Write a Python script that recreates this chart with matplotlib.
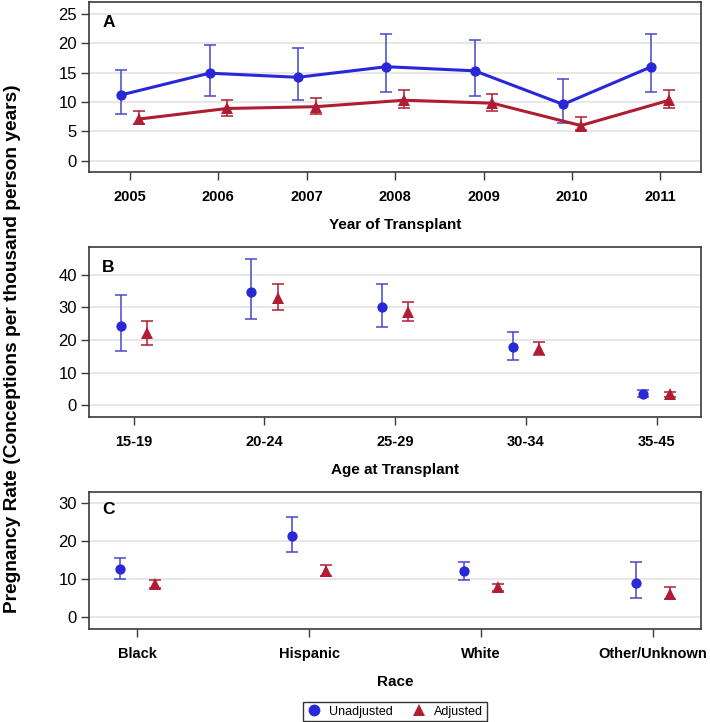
import matplotlib
matplotlib.use("Agg")
import matplotlib.pyplot as plt
from matplotlib.lines import Line2D
import numpy as np

plt.rcParams['font.family'] = ['Liberation Sans', 'DejaVu Sans']

# ---- Data ----
years = [2005, 2006, 2007, 2008, 2009, 2010, 2011]
a_unadj = [11.2, 14.9, 14.2, 16.0, 15.3, 9.6, 16.0]
a_unadj_lo = [8.0, 11.1, 10.4, 11.7, 11.1, 6.4, 11.7]
a_unadj_hi = [15.5, 19.7, 19.1, 21.5, 20.5, 13.9, 21.5]
a_adj = [7.1, 8.9, 9.2, 10.3, 9.8, 6.0, 10.3]
a_adj_lo = [6.2, 7.7, 7.9, 8.9, 8.5, 5.2, 8.9]
a_adj_hi = [8.5, 10.3, 10.7, 12.1, 11.4, 7.4, 12.1]

ages = ['15-19', '20-24', '25-29', '30-34', '35-45']
b_unadj = [24.2, 34.7, 30.1, 17.9, 3.5]
b_unadj_lo = [16.7, 26.4, 24.1, 14.0, 2.5]
b_unadj_hi = [33.9, 44.8, 37.2, 22.5, 4.7]
b_adj = [22.0, 33.0, 28.7, 17.3, 3.3]
b_adj_lo = [18.6, 29.1, 25.8, 15.4, 2.6]
b_adj_hi = [25.9, 37.2, 31.6, 19.5, 4.1]

races = ['Black', 'Hispanic', 'White', 'Other/Unknown']
c_unadj = [12.6, 21.5, 12.1, 8.9]
c_unadj_lo = [10.0, 17.2, 9.8, 5.0]
c_unadj_hi = [15.6, 26.4, 14.6, 14.5]
c_adj = [8.7, 12.2, 7.8, 6.1]
c_adj_lo = [7.7, 10.9, 6.8, 4.7]
c_adj_hi = [9.8, 13.8, 8.7, 7.8]

BLUE = '#2828D8'
BLUE_EB = '#4646CC'
RED = '#B01C32'
SPINE = '#3a3a3a'
GRID = '#e3e3e3'

fig = plt.figure(figsize=(7.1, 7.22), dpi=100)

def make_ax(top_px, bot_px):
    H = 722.0
    left = 89.3 / 710
    right = 701 / 710
    return fig.add_axes([left, 1 - bot_px / H, right - left, (bot_px - top_px) / H])

def style(ax, ylim, yticks, letter, xlabel):
    ax.set_ylim(*ylim)
    ax.set_yticks(yticks)
    ax.yaxis.grid(True, color=GRID, linewidth=1.2)
    ax.set_axisbelow(True)
    for s in ax.spines.values():
        s.set_color(SPINE)
        s.set_linewidth(1.2)
    ax.tick_params(axis='both', colors=SPINE, length=6, width=1.0)
    ax.tick_params(axis='y', labelsize=12, labelcolor='black', pad=3)
    ax.tick_params(axis='x', labelsize=10.5, labelcolor='black', pad=7)
    for lab in ax.get_xticklabels():
        lab.set_fontweight('bold')
    ax.set_xlabel(xlabel, fontsize=11, fontweight='bold', labelpad=10)
    ax.text(13 / 612, 1 - 13 / 170, letter, transform=ax.transAxes,
            fontsize=12.5, fontweight='bold', va='top', ha='left')

def draw(ax, x, u, ulo, uhi, a, alo, ahi, lines=False, off=0.1):
    x = np.asarray(x, dtype=float)
    u, ulo, uhi = map(np.asarray, (u, ulo, uhi))
    a, alo, ahi = map(np.asarray, (a, alo, ahi))
    ax.errorbar(x - off, u, yerr=[u - ulo, uhi - u], fmt='none',
                ecolor=BLUE_EB, elinewidth=1.1, capsize=4.3, capthick=1.1, zorder=2)
    ax.errorbar(x + off, a, yerr=[a - alo, ahi - a], fmt='none',
                ecolor=RED, elinewidth=1.1, capsize=4.3, capthick=1.1, zorder=2)
    ls = '-' if lines else 'none'
    ax.plot(x - off, u, linestyle=ls, color=BLUE, lw=2.2, marker='o',
            markersize=7.4, markeredgewidth=0, zorder=3)
    ax.plot(x + off, a, linestyle=ls, color=RED, lw=2.2, marker='^',
            markersize=8.2, markeredgewidth=0, zorder=3)

# Panel A
axA = make_ax(2, 172)
draw(axA, years, a_unadj, a_unadj_lo, a_unadj_hi, a_adj, a_adj_lo, a_adj_hi, lines=True)
axA.set_xlim(2004.54, 2011.46)
axA.set_xticks(years)
axA.set_xticklabels([str(y) for y in years])
style(axA, (-1.9, 27.0), [0, 5, 10, 15, 20, 25], 'A', 'Year of Transplant')

# Panel B
axB = make_ax(247.3, 417.3)
xb = np.arange(len(ages))
draw(axB, xb, b_unadj, b_unadj_lo, b_unadj_hi, b_adj, b_adj_lo, b_adj_hi)
axB.set_xlim(-0.34, len(ages) - 1 + 0.34)
axB.set_xticks(xb)
axB.set_xticklabels(ages)
style(axB, (-3.7, 48.4), [0, 10, 20, 30, 40], 'B', 'Age at Transplant')

# Panel C
axC = make_ax(491.7, 628.7)
xc = np.arange(len(races))
draw(axC, xc, c_unadj, c_unadj_lo, c_unadj_hi, c_adj, c_adj_lo, c_adj_hi)
axC.set_xlim(-0.28, len(races) - 1 + 0.28)
axC.set_xticks(xc)
axC.set_xticklabels(races)
style(axC, (-3.1, 33.1), [0, 10, 20, 30], 'C', 'Race')

# Shared y label
fig.text(13 / 710, 1 - 349 / 722, 'Pregnancy Rate (Conceptions per thousand person years)',
         rotation=90, fontsize=13.8, fontweight='bold', ha='center', va='center')

# Legend
handles = [
    Line2D([], [], linestyle='none', marker='o', color=BLUE, markersize=8.5, markeredgewidth=0),
    Line2D([], [], linestyle='none', marker='^', color=RED, markersize=9, markeredgewidth=0),
]
leg = fig.legend(handles, ['Unadjusted', 'Adjusted'], loc='center',
                 bbox_to_anchor=(395 / 710, 1 - 711.5 / 722), ncol=2, fontsize=9,
                 frameon=True, fancybox=False, edgecolor='black', handlelength=1.2,
                 handletextpad=0.6, columnspacing=1.5, borderpad=0.3)
leg.get_frame().set_linewidth(1.0)

fig.savefig('out.png', dpi=100)
